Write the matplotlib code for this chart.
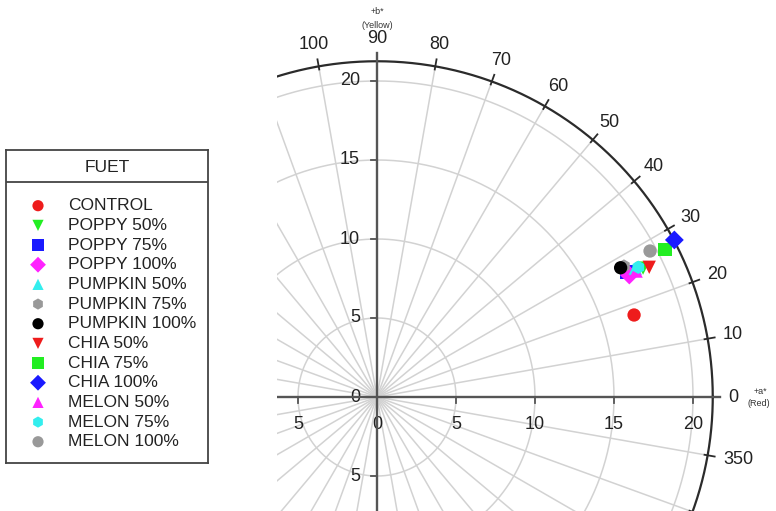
import numpy as np
import matplotlib.pyplot as plt

plt.rcParams['font.family'] = ['Liberation Sans', 'DejaVu Sans']

# samples (a*, b*)
labels = ['CONTROL', 'POPPY 50%', 'POPPY 75%', 'POPPY 100%',
          'PUMPKIN 50%', 'PUMPKIN 75%', 'PUMPKIN 100%',
          'CHIA 50%', 'CHIA 75%', 'CHIA 100%',
          'MELON 50%', 'MELON 75%', 'MELON 100%']
a_star = [16.27, 16.84, 15.82, 15.97, 16.35, 15.63, 15.42,
          17.23, 18.23, 18.82, 16.40, 16.54, 17.28]
b_star = [5.19, 8.16, 7.91, 7.72, 8.15, 8.29, 8.18,
          8.21, 9.35, 9.94, 7.97, 8.21, 9.24]
markers = ['o', 'v', 's', 'D', '^', 'h', 'o', 'v', 's', 'D', '^', 'h', 'o']
colors = ['#ee1c1c', '#22ee22', '#1a1aff', '#ff22ff', '#33eeee', '#999999',
          '#000000', '#ee1c1c', '#22ee22', '#1a1aff', '#ff22ff', '#33eeee',
          '#999999']

ring_values = [5, 10, 15, 20]
angle_labels = [350, 0, 10, 20, 30, 40, 50, 60, 70, 80, 90, 100]
x_tick_values = [-5, 0, 5, 10, 15, 20]
y_tick_values = [-5, 0, 5, 10, 15, 20]

W, H = 776, 511
fig = plt.figure(figsize=(W / 100, H / 100), dpi=100)

# polar panel laid out in pixels
scale = 15.8          # px per unit
ox, oy = 377, 397     # origin in px
left_px = 277
ax = fig.add_axes([left_px / W, 0, 1 - left_px / W, 1])
ax.set_xlim(-(ox - left_px) / scale, (W - ox) / scale)
ax.set_ylim(-(H - oy) / scale, oy / scale)
ax.axis('off')

R = 21.25
grid_c = '#d2d2d2'
th = np.linspace(0, 2 * np.pi, 721)
for r in ring_values:
    ax.plot(r * np.cos(th), r * np.sin(th), color=grid_c, lw=1.1, zorder=1)
for deg in range(0, 360, 10):
    t = np.radians(deg)
    ax.plot([0, R * np.cos(t)], [0, R * np.sin(t)], color=grid_c, lw=1.1, zorder=1)

# outer circle + angle ticks
ax.plot(R * np.cos(th), R * np.sin(th), color='#2b2b2b', lw=1.6, zorder=3)
for deg in range(0, 360, 10):
    t = np.radians(deg)
    ax.plot([(R - 0.2) * np.cos(t), (R + 0.45) * np.cos(t)],
            [(R - 0.2) * np.sin(t), (R + 0.45) * np.sin(t)],
            color='#2b2b2b', lw=1.3, zorder=3)

# angle labels sit just outside the ring, pushed out by half their size
r_lab = 22.25
digit_w = 10 / scale
half_h = 6.5 / scale
for d in angle_labels:
    t = np.radians(d)
    s = str(d)
    cx = r_lab * np.cos(t) + len(s) * digit_w / 2 * np.cos(t)
    cy = r_lab * np.sin(t) + half_h * np.sin(t)
    ax.text(cx, cy, s, ha='center', va='center', fontsize=13, color='#222222')

# a* / b* axes
axis_c = '#555555'
ax.plot([-6.5, 21.7], [0, 0], color=axis_c, lw=1.7, zorder=4)
ax.plot([0, 0], [-7.5, 21.8], color=axis_c, lw=1.7, zorder=4)
for v in x_tick_values:
    ax.plot([v, v], [0, -0.38], color=axis_c, lw=1.3, zorder=4)
    ax.text(v, -1.77, str(abs(v)), ha='center', va='center', fontsize=13,
            color='#222222')
for v in y_tick_values:
    ax.plot([-0.35, 0], [v, v], color=axis_c, lw=1.3, zorder=4)
    ax.text(-1.08, v, str(abs(v)), ha='right', va='center', fontsize=13,
            color='#222222')

ax.text(0, 24.37, '+b*', ha='center', va='center', fontsize=6.5, color='#333333')
ax.text(0, 23.54, '(Yellow)', ha='center', va='center', fontsize=6.5, color='#333333')
ax.text(24.24, 0.32, '+a*', ha='center', va='center', fontsize=6.5, color='#333333')
ax.text(24.18, -0.44, '(Red)', ha='center', va='center', fontsize=6.5, color='#333333')

for a, b, m, c in zip(a_star, b_star, markers, colors):
    ax.scatter(a, b, marker=m, color=c, s=92, edgecolors='none', zorder=5)

# legend box
lg = fig.add_axes([6 / W, 1 - 463 / H, 202 / W, 313 / H])
lg.set_xlim(0, 202)
lg.set_ylim(313, 0)
lg.set_xticks([])
lg.set_yticks([])
for sp in lg.spines.values():
    sp.set_color('#444444')
    sp.set_linewidth(1.3)
lg.axhline(32, color='#444444', lw=1.3)
lg.text(101, 18, 'FUET', ha='center', va='center', fontsize=12.5, color='#222222')
for i, (lab, m, c) in enumerate(zip(labels, markers, colors)):
    y = 55.7 + 19.67 * i
    lg.scatter(32, y, marker=m, color=c, s=65, edgecolors='none')
    lg.text(62, y, lab, ha='left', va='center', fontsize=12.5, color='#222222')

fig.savefig('out.png', dpi=100)
